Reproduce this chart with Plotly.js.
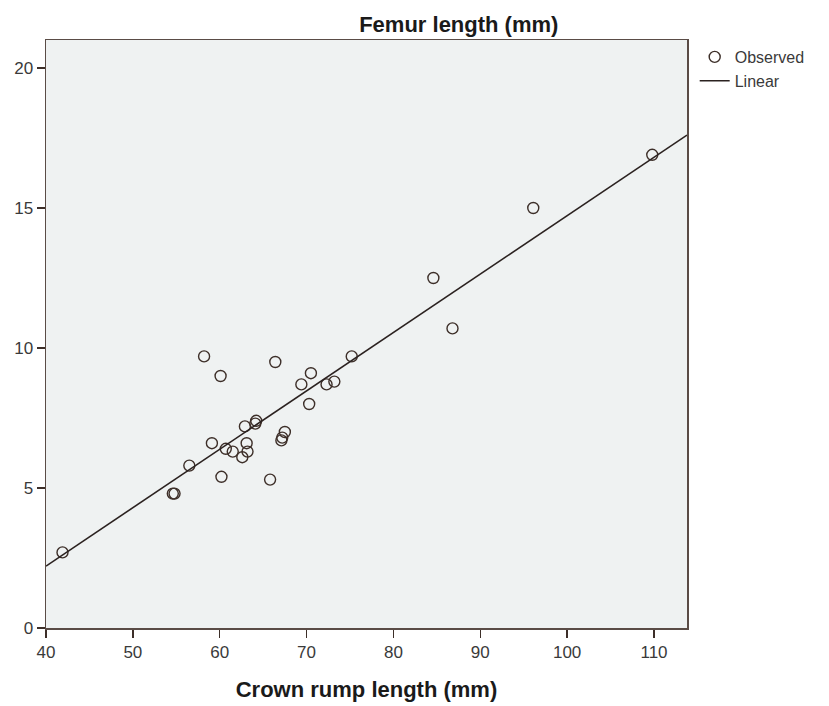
<!DOCTYPE html>
<html>
<head>
<meta charset="utf-8">
<script src="https://cdn.plot.ly/plotly-3.0.1.min.js"></script>
<style>
  html, body { margin: 0; padding: 0; background: #ffffff; }
  #chart { width: 829px; height: 706px; }
</style>
</head>
<body>
<div id="chart"></div>
<script>
// Crown rump length (mm) vs femur length (mm), observed cases
const crownRump = [41.9, 54.6, 54.8, 56.5, 60.2, 58.2, 60.1, 66.4, 62.9, 64.2, 64.1,
                   59.1, 60.7, 61.5, 63.1, 63.2, 62.6, 65.8, 67.5, 67.1, 67.2, 70.5,
                   69.4, 72.3, 73.2, 70.3, 75.2, 84.6, 86.8, 96.1, 109.8];
const femur     = [2.7, 4.8, 4.8, 5.8, 5.4, 9.7, 9.0, 9.5, 7.2, 7.4, 7.3,
                   6.6, 6.4, 6.3, 6.6, 6.3, 6.1, 5.3, 7.0, 6.7, 6.8, 9.1,
                   8.7, 8.7, 8.8, 8.0, 9.7, 12.5, 10.7, 15.0, 16.9];

const xTicks = [40, 50, 60, 70, 80, 90, 100, 110];
const yTicks = [0, 5, 10, 15, 20];
const xRange = [40, 113.8];
const yRange = [0, 21];

// Ordinary least squares fit for the "Linear" line
function linearFit(xs, ys) {
  const n = xs.length;
  const mx = xs.reduce((a, b) => a + b, 0) / n;
  const my = ys.reduce((a, b) => a + b, 0) / n;
  let sxy = 0, sxx = 0;
  for (let i = 0; i < n; i++) {
    sxy += (xs[i] - mx) * (ys[i] - my);
    sxx += (xs[i] - mx) * (xs[i] - mx);
  }
  const slope = sxy / sxx;
  return { slope: slope, intercept: my - slope * mx };
}
const fit = linearFit(crownRump, femur);
const fitX = [xRange[0], xRange[1]];
const fitY = fitX.map(x => fit.intercept + fit.slope * x);

const ink = '#3d2f29';
const textColor = '#3a3a3a';
const font = 'Liberation Sans, Arial, sans-serif';

const traces = [
  {
    type: 'scatter', mode: 'markers', name: 'Observed',
    x: crownRump, y: femur,
    marker: { symbol: 'circle-open', size: 11, color: ink, line: { width: 1.4, color: ink } },
    cliponaxis: true
  },
  {
    type: 'scatter', mode: 'lines', name: 'Linear',
    x: fitX, y: fitY,
    line: { color: '#2b2220', width: 1.6 }
  }
];

const layout = {
  width: 829, height: 706,
  margin: { l: 46, r: 142, t: 40, b: 78 },
  paper_bgcolor: '#ffffff',
  plot_bgcolor: '#eff2f2',
  font: { family: font, color: textColor, size: 16 },
  showlegend: true,
  title: {
    text: '<b>Femur length (mm)</b>',
    font: { family: font, size: 22, color: '#1a1a1a' },
    x: 0.644, xanchor: 'center', xref: 'paper',
    y: 1, yref: 'paper', yanchor: 'bottom', pad: { b: 8 }
  },
  xaxis: {
    range: xRange, tickvals: xTicks, ticktext: xTicks.map(String),
    showgrid: false, zeroline: false,
    showline: true, linecolor: '#5a4c46', linewidth: 1.5, mirror: true,
    ticks: 'outside', ticklen: 8, tickwidth: 1.5, tickcolor: '#3d2f29',
    tickfont: { family: font, size: 17, color: textColor },
    title: { text: '<b>Crown rump length (mm)</b>', font: { family: font, size: 22, color: '#1a1a1a' }, standoff: 20 }
  },
  yaxis: {
    range: yRange, tickvals: yTicks, ticktext: yTicks.map(String),
    showgrid: false, zeroline: false,
    showline: true, linecolor: '#5a4c46', linewidth: 1.5, mirror: true,
    ticks: 'outside', ticklen: 8, tickwidth: 1.5, tickcolor: '#3d2f29',
    tickfont: { family: font, size: 17, color: textColor }
  },
  legend: {
    x: 1.012, xanchor: 'left', y: 1.0, yanchor: 'top',
    bgcolor: 'rgba(0,0,0,0)',
    font: { family: font, size: 16, color: textColor },
    tracegroupgap: 0, itemwidth: 30
  }
};

Plotly.newPlot('chart', traces, layout, { displayModeBar: false, staticPlot: true });
</script>
</body>
</html>
